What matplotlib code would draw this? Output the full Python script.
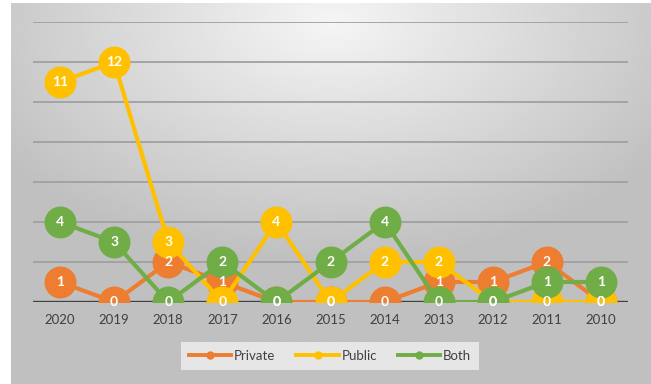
import numpy as np
import matplotlib.pyplot as plt

years = ["2020", "2019", "2018", "2017", "2016", "2015", "2014", "2013", "2012", "2011", "2010"]
private = [1, 0, 2, 1, 0, 0, 0, 1, 1, 2, 0]
public = [11, 12, 3, 0, 4, 0, 2, 2, 0, 0, 0]
both = [4, 3, 0, 2, 0, 2, 4, 0, 0, 1, 1]

plt.rcParams['font.family'] = ['Lato', 'DejaVu Sans']

fig = plt.figure(figsize=(6.51, 3.84), dpi=100)
fig.patch.set_facecolor("white")

# radial grey background panel
bg = fig.add_axes([11/651, 0, 1 - 11/651, 1 - 3/384], zorder=-10)
yy, xx = np.mgrid[0:1:200j, 0:1:300j]
r = np.sqrt(((xx - 0.5) * 1.0) ** 2 + ((yy - 0.05) * 1.0) ** 2)
shade = np.clip(0.96 - 0.33 * r, 0.75, 0.97)
bg.imshow(shade, cmap="gray", vmin=0, vmax=1, aspect="auto", extent=[0, 1, 1, 0])
bg.axis("off")

ax = fig.add_axes([33/651, 82/384, 595/651, 280/384])
ax.patch.set_alpha(0)

x = np.arange(len(years))
for yv in range(2, 15, 2):
    ax.axhline(yv, color="#a0a0a0", lw=1.3, zorder=1)
ax.axhline(0, color="#404040", lw=2.4, zorder=1)

series = [("Private", private, "#ED7D31"), ("Public", public, "#FFC000"), ("Both", both, "#70AD47")]
for i, (name, vals, c) in enumerate(series):
    ax.plot(x, vals, color=c, lw=3, marker="o", ms=22, zorder=3 + i, label=name)
    for xi, v in zip(x, vals):
        ax.text(xi, v, str(v), color="white", ha="center", va="center",
                fontsize=10, fontweight="bold", zorder=10)

ax.set_xlim(-0.5, len(years) - 0.5)
ax.set_ylim(0, 14)
ax.set_yticks([])
ax.set_xticks(x)
ax.set_xticklabels(years, fontsize=9.5, color="#404040")
ax.tick_params(axis="x", length=0, pad=9)
for s in ax.spines.values():
    s.set_visible(False)

handles = [plt.Line2D([], [], color=c, lw=2.8, marker="o", ms=5) for _, _, c in series]
leg = fig.legend(handles, [s[0] for s in series], loc="center", bbox_to_anchor=(330/651, 1 - 356/384),
                 ncol=3, frameon=True, fontsize=9.5, handlelength=3.2, columnspacing=1.6,
                 handletextpad=0.2, borderpad=0.6, fancybox=False)
leg.get_frame().set_facecolor("#e6e6e6")
leg.get_frame().set_edgecolor("none")
leg.get_frame().set_alpha(1)
for t in leg.get_texts():
    t.set_color("#404040")

fig.savefig("out.png", dpi=100)
